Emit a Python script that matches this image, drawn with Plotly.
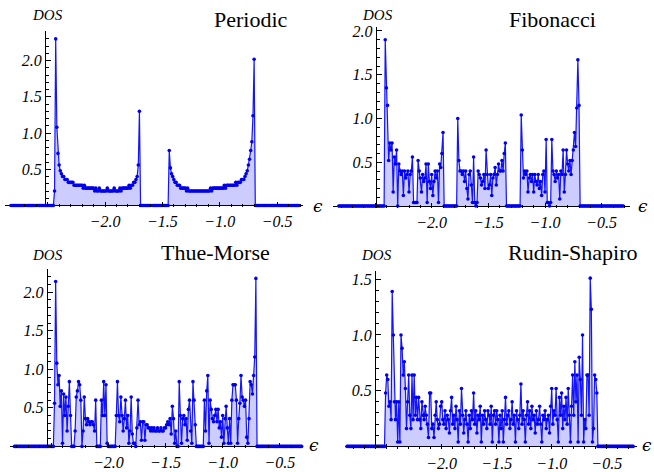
import plotly.graph_objects as go

W, H = 654, 472

# ---------------- data (DOS values on an energy grid, step 0.01) ----------------
EPS_STEP = 0.01
EPS_START = -2.82          # Periodic, Fibonacci, Thue-Morse
EPS_START_RS = -2.86       # Rudin-Shapiro

PERIODIC = [
    0, 0,
    0, 0, 0, 0, 0, 0, 0, 0, 0, 0,
    0, 0, 0, 0, 0, 0, 0, 0, 0, 0,
    0, 0, 0, 0, 0, 0, 0, 0, 0, 0,
    0, 0, 0, 0, 0, 0, 0.2, 2.3, 1.08, 0.72,
    0.56, 0.48, 0.44, 0.4, 0.4, 0.36, 0.36, 0.36, 0.32, 0.32,
    0.32, 0.32, 0.32, 0.28, 0.28, 0.28, 0.28, 0.28, 0.28, 0.28,
    0.28, 0.24, 0.28, 0.24, 0.24, 0.24, 0.24, 0.24, 0.24, 0.24,
    0.24, 0.2, 0.24, 0.2, 0.2, 0.24, 0.2, 0.2, 0.2, 0.2,
    0.2, 0.2, 0.24, 0.2, 0.2, 0.2, 0.2, 0.2, 0.24, 0.2,
    0.2, 0.2, 0.2, 0.24, 0.2, 0.24, 0.24, 0.24, 0.24, 0.24,
    0.24, 0.28, 0.24, 0.28, 0.28, 0.32, 0.32, 0.36, 0.4, 0.56,
    1.3, 0, 0, 0, 0, 0, 0, 0, 0, 0,
    0, 0, 0, 0, 0, 0, 0, 0, 0, 0,
    0, 0, 0, 0, 0, 0, 0.76, 0.52, 0.44, 0.4,
    0.36, 0.32, 0.32, 0.28, 0.28, 0.28, 0.24, 0.24, 0.24, 0.24,
    0.24, 0.2, 0.24, 0.2, 0.2, 0.2, 0.2, 0.2, 0.2, 0.2,
    0.2, 0.2, 0.2, 0.2, 0.2, 0.2, 0.2, 0.2, 0.2, 0.2,
    0.2, 0.2, 0.24, 0.2, 0.24, 0.24, 0.24, 0.24, 0.24, 0.24,
    0.24, 0.24, 0.24, 0.24, 0.28, 0.24, 0.28, 0.28, 0.28, 0.28,
    0.28, 0.28, 0.28, 0.28, 0.32, 0.28, 0.32, 0.32, 0.32, 0.36,
    0.36, 0.36, 0.4, 0.44, 0.48, 0.56, 0.64, 0.76, 0.88, 1.24,
    2.02, 0, 0, 0, 0, 0, 0, 0, 0, 0,
    0, 0, 0, 0, 0, 0, 0, 0, 0, 0,
    0, 0, 0, 0, 0, 0, 0, 0, 0, 0,
    0, 0, 0, 0, 0, 0, 0, 0, 0, 0,
]

FIBONACCI = [
    0, 0,
    0, 0, 0, 0, 0, 0, 0, 0, 0, 0,
    0, 0, 0, 0, 0, 0, 0, 0, 0, 0,
    0, 0, 0, 0, 0, 0, 0, 0, 0, 0,
    0, 0, 0, 0, 0, 0, 0, 0, 0, 1.9,
    1.35, 1.15, 0.52, 0.72, 0.64, 0.72, 0.16, 0.56, 0.48, 0.64,
    0, 0.48, 0.4, 0.36, 0.4, 0.12, 0.4, 0.32, 0.36, 0.4,
    0.16, 0.36, 0.4, 0.56, 0.04, 0.04, 0.04, 0.04, 0.52, 0.4,
    0.32, 0.16, 0.36, 0.28, 0.32, 0.48, 0.04, 0.48, 0.28, 0.2,
    0.36, 0.12, 0.28, 0.4, 0.32, 0.4, 0.04, 0.48, 0.44, 0.6,
    0.84, 0, 0, 0, 0, 0, 0, 0, 0, 0,
    0, 0, 0, 1.0, 0.52, 0.4, 0.4, 0.36, 0.4, 0.28,
    0.4, 0.2, 0.08, 0.36, 0.4, 0.24, 0.04, 0.56, 0.04, 0,
    0.04, 0.4, 0.36, 0.32, 0.24, 0.28, 0.36, 0.2, 0.64, 0.36,
    0.2, 0.24, 0.36, 0.12, 0.32, 0.36, 0.44, 0.24, 0.36, 0.48,
    0.4, 0.4, 0.52, 0.4, 0.6, 0.72, 0, 0, 0, 0,
    0, 0, 0, 0, 0, 0, 0, 0, 0, 1.04,
    0.64, 0.32, 0.4, 0.36, 0.4, 0.16, 0.32, 0.36, 0.28, 0.36,
    0.16, 0.36, 0.28, 0.24, 0.36, 0.2, 0.28, 0.12, 0.36, 0.4,
    0.16, 0.76, 0.04, 0.04, 0, 0.04, 0.76, 0.4, 0.36, 0.28,
    0.4, 0.32, 0.36, 0.08, 0.4, 0.36, 0.64, 0.16, 0.36, 0.64,
    0.48, 0.4, 0.52, 0.36, 0.52, 0.64, 0.84, 0.68, 1.12, 1.67,
    1.15, 0, 0, 0, 0, 0, 0, 0, 0, 0,
    0, 0, 0, 0, 0, 0, 0, 0, 0, 0,
    0, 0, 0, 0, 0, 0, 0, 0, 0, 0,
    0, 0, 0, 0, 0, 0, 0, 0, 0, 0,
]

THUE_MORSE = [
    0, 0,
    0, 0, 0, 0, 0, 0, 0, 0, 0, 0,
    0, 0, 0, 0, 0, 0, 0, 0, 0, 0,
    0, 0, 0, 0, 0, 0, 0, 0, 0, 0,
    0, 0, 0, 0.56, 2.14, 1.08, 0.8, 0.92, 0.52, 0.72,
    0.04, 0.68, 0.4, 0.64, 0.2, 0.52, 0.84, 0.4, 0, 0,
    0, 0.2, 0.64, 0.72, 0.84, 0.8, 0.6, 0, 0.2, 0.64,
    0.36, 0.28, 0.36, 0.32, 0.28, 0.32, 0.32, 0.28, 0.2, 0.6,
    0, 0, 0, 0, 0.6, 0.4, 0.84, 0.4, 0.8, 0.04,
    0, 0, 0, 0, 0, 0, 0, 0.4, 0.84, 0.4,
    0.32, 0.64, 0.4, 0.2, 0.36, 0.6, 0.24, 0.4, 0.04, 0.2,
    0.64, 0.16, 0.04, 0.04, 0, 0.24, 0.6, 0.28, 0.32, 0.08,
    0.32, 0.32, 0.08, 0.28, 0.28, 0.24, 0.24, 0.2, 0.24, 0.2,
    0.24, 0.2, 0.2, 0.24, 0.2, 0.2, 0.24, 0.2, 0.2, 0.24,
    0.24, 0.28, 0.32, 0.28, 0.36, 0.16, 0.52, 0.36, 0.04, 0.2,
    0, 0, 0.84, 0.4, 0.04, 0.36, 0.4, 0.28, 0.36, 0.08,
    0.48, 0.6, 0.2, 0.04, 0.84, 0.6, 0.28, 0, 0, 0,
    0, 0, 0, 0, 0.6, 0.2, 0.72, 0.92, 0.04, 0.6,
    0.48, 0.36, 0.32, 0.4, 0.48, 0.32, 0.48, 0.24, 0.32, 0.12,
    0.4, 0.04, 0.36, 0.52, 0.24, 0.04, 0.36, 0.04, 0.6, 0.8,
    0.8, 0.8, 0.6, 0.04, 0.36, 0.56, 0.92, 0.64, 0.6, 0.52,
    0.6, 0.12, 0.04, 0.36, 0.84, 0.8, 0.68, 0.92, 1.16, 2.18,
    0, 0, 0, 0, 0, 0, 0, 0, 0, 0,
    0, 0, 0, 0, 0, 0, 0, 0, 0, 0,
    0, 0, 0, 0, 0, 0, 0, 0, 0, 0,
    0, 0, 0, 0, 0, 0, 0, 0, 0, 0,
]

RUDIN_SHAPIRO = [
    0, 0, 0, 0, 0, 0,
    0, 0, 0, 0, 0, 0, 0, 0, 0, 0,
    0, 0, 0, 0, 0, 0, 0, 0, 0, 0,
    0, 0, 0, 0, 0, 0, 0, 0, 0, 0.48,
    0.64, 0.6, 0.36, 0.4, 0.24, 1.39, 1.0, 0.4, 0.24, 0.4,
    0.04, 0.4, 0.04, 1.0, 0.88, 0.64, 0.76, 0.52, 0.16, 0.4,
    0.64, 0.28, 0.16, 0.64, 0.24, 0.64, 0.28, 0.44, 0.24, 0.44,
    0.24, 0.16, 0.4, 0.28, 0.24, 0.36, 0.28, 0.2, 0.08, 0.48,
    0.48, 0.16, 0.2, 0.08, 0.28, 0.4, 0.24, 0.16, 0.2, 0.36,
    0.4, 0.24, 0.2, 0.32, 0.16, 0.28, 0.24, 0.12, 0.32, 0.44,
    0.2, 0.28, 0.16, 0.36, 0.24, 0.04, 0.32, 0.2, 0.52, 0.28,
    0.12, 0.24, 0.32, 0.2, 0.04, 0.28, 0.16, 0.32, 0.24, 0.48,
    0.2, 0.32, 0.12, 0.28, 0.24, 0.36, 0.04, 0.28, 0.2, 0.32,
    0.24, 0.16, 0.32, 0.28, 0.2, 0.36, 0.04, 0.28, 0.32, 0.2,
    0.32, 0.24, 0.04, 0.28, 0.16, 0.32, 0.04, 0.24, 0.44, 0.2,
    0.28, 0.32, 0.16, 0.24, 0.4, 0.2, 0.28, 0.04, 0.32, 0.24,
    0.16, 0.28, 0.56, 0.2, 0.32, 0.24, 0.04, 0.28, 0.4, 0.2,
    0.32, 0.16, 0.36, 0.24, 0.28, 0.12, 0.32, 0.2, 0.24, 0.36,
    0.2, 0.04, 0.28, 0.24, 0.32, 0.16, 0.24, 0.28, 0.12, 0.36,
    0.52, 0.2, 0.32, 0.28, 0.52, 0.24, 0.04, 0.44, 0.28, 0.48,
    0.16, 0.36, 0.24, 0.44, 0.2, 0.52, 0.28, 0.04, 0.36, 0.64,
    0.28, 0.76, 0.4, 0.64, 0.04, 0.8, 0.6, 0.28, 1.0, 0.04,
    0.24, 0.16, 0.64, 0.64, 0.28, 1.51, 1.23, 0.04, 0.16, 0.64,
    0.6, 0.48, 0, 0, 0, 0, 0, 0, 0, 0,
    0, 0, 0, 0, 0, 0, 0, 0, 0, 0,
    0, 0, 0, 0, 0, 0, 0, 0, 0, 0,
    0, 0, 0, 0, 0,
]

TITLES = ["Periodic", "Fibonacci", "Thue-Morse", "Rudin-Shapiro"]
X_TICKS = [-2.5, -2.0, -1.5, -1.0, -0.5]
X_TICK_TEXT = ["", "\u22122.0", "\u22121.5", "\u22121.0", "\u22120.5"]
Y_TICKS_A = [0.5, 1.0, 1.5, 2.0]
Y_TICKS_B = [0.5, 1.0, 1.5]

# ---------------- layout geometry (pixels) ----------------
PANELS = [
    dict(vals=PERIODIC, start=EPS_START, title=TITLES[0],
         xpx=(5, 303), xr=(-2.872, -0.274), yax_px=45,
         ypx=(27.4, 206.5), yr=(-0.02, 2.41), yt=Y_TICKS_A,
         title_xy=(290, 15.5), dos_xy=(47, 11), eps_xy=(317.5, 205.5)),
    dict(vals=FIBONACCI, start=EPS_START, title=TITLES[1],
         xpx=(333, 630), xr=(-2.871, -0.250), yax_px=375.7,
         ypx=(23.0, 207.3), yr=(-0.02, 2.05), yt=Y_TICKS_A,
         title_xy=(598, 15.5), dos_xy=(377.5, 11), eps_xy=(643, 205.5)),
    dict(vals=THUE_MORSE, start=EPS_START, title=TITLES[2],
         xpx=(10, 302), xr=(-2.859, -0.307), yax_px=46.7,
         ypx=(269.7, 451.6), yr=(-0.02, 2.30), yt=Y_TICKS_A,
         title_xy=(272, 252.5), dos_xy=(47, 255), eps_xy=(314, 448.5)),
    dict(vals=RUDIN_SHAPIRO, start=EPS_START_RS, title=TITLES[3],
         xpx=(345, 637), xr=(-2.879, -0.225), yax_px=375,
         ypx=(272.1, 452.3), yr=(-0.02, 1.57), yt=Y_TICKS_B,
         title_xy=(640, 252.5), dos_xy=(376.5, 255), eps_xy=(646.5, 448.5)),
]

LINE_COLOR = "rgb(20,20,255)"
MARK_COLOR = "rgb(0,0,235)"
FILL_COLOR = "rgba(0,0,255,0.2)"
TICK_FONT = dict(family="Liberation Serif", size=16, color="black", style="italic")

fig = go.Figure()
layout = dict(
    width=W, height=H, margin=dict(l=0, r=0, t=0, b=0),
    paper_bgcolor="white", plot_bgcolor="rgba(0,0,0,0)",
    showlegend=False,
)
annotations = []

for i, p in enumerate(PANELS, start=1):
    sfx = "" if i == 1 else str(i)
    xs = [round(p["start"] + k * EPS_STEP, 4) for k in range(len(p["vals"]))]
    fig.add_trace(go.Scatter(
        x=xs, y=p["vals"], mode="lines+markers",
        line=dict(color=LINE_COLOR, width=1.2),
        marker=dict(color=MARK_COLOR, size=3.6),
        fill="tozeroy", fillcolor=FILL_COLOR,
        xaxis="x" + sfx, yaxis="y" + sfx, cliponaxis=False,
        hoverinfo="skip",
    ))
    layout["xaxis" + sfx] = dict(
        domain=[p["xpx"][0] / W, p["xpx"][1] / W], range=list(p["xr"]),
        anchor="y" + sfx, showgrid=False, zeroline=False, showline=False,
        ticks="inside", ticklen=5, tickwidth=1, tickcolor="black",
        tickmode="array", tickvals=X_TICKS, ticktext=X_TICK_TEXT,
        tickfont=TICK_FONT, ticklabelstandoff=3,
        minor=dict(ticks="inside", ticklen=3, tickwidth=1, tickcolor="black",
                   tickmode="linear", tick0=0, dtick=0.1, showgrid=False),
    )
    layout["yaxis" + sfx] = dict(
        domain=[1 - p["ypx"][1] / H, 1 - p["ypx"][0] / H], range=list(p["yr"]),
        anchor="free", position=p["yax_px"] / W,
        showgrid=False, showline=True, linecolor="black", linewidth=1,
        zeroline=True, zerolinecolor="black", zerolinewidth=1,
        ticks="inside", ticklen=5, tickwidth=1, tickcolor="black",
        tickmode="array", tickvals=p["yt"],
        ticktext=[f"{v:.1f}" for v in p["yt"]],
        tickfont=TICK_FONT,
        minor=dict(ticks="inside", ticklen=3, tickwidth=1, tickcolor="black",
                   tickmode="linear", tick0=0, dtick=0.1, showgrid=False),
    )
    tx, ty = p["title_xy"]
    annotations.append(dict(text=p["title"], x=tx / W, y=1 - ty / H,
                            xref="paper", yref="paper", xanchor="right", yanchor="middle",
                            showarrow=False,
                            font=dict(family="Liberation Serif", size=22, color="black")))
    dx, dy = p["dos_xy"]
    annotations.append(dict(text="DOS", x=dx / W, y=1 - dy / H,
                            xref="paper", yref="paper", xanchor="center", yanchor="middle",
                            showarrow=False,
                            font=dict(family="Liberation Serif", size=15, color="black",
                                      style="italic")))
    ex, ey = p["eps_xy"]
    annotations.append(dict(text="\u03f5", x=ex / W, y=1 - ey / H,
                            xref="paper", yref="paper", xanchor="center", yanchor="middle",
                            showarrow=False,
                            font=dict(family="DejaVu Serif", size=17, color="black",
                                      style="italic")))

layout["annotations"] = annotations
fig.update_layout(**layout)
fig.write_html("out.html")
